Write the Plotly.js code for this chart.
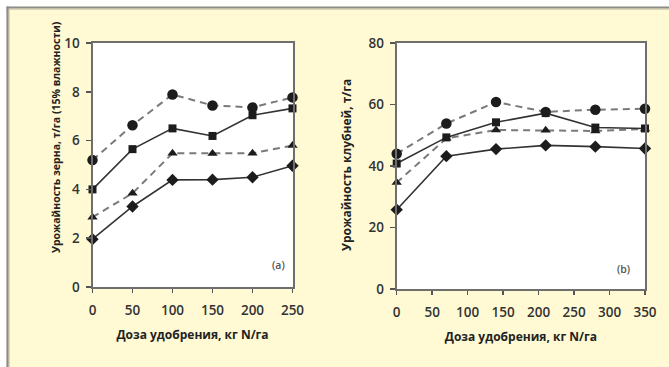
<!DOCTYPE html>
<html>
<head>
<meta charset="utf-8">
<script src="https://cdn.plot.ly/plotly-3.0.1.min.js"></script>
<style>html,body{margin:0;padding:0;background:#fff;}#chart{width:669px;height:367px;}</style>
</head>
<body>
<div id="chart"></div>
<script>
// Panel (a): grain yield, t/ha (15% moisture)
const xA = [0, 50, 100, 150, 200, 250];
const aCircle = [5.2, 6.63, 7.89, 7.44, 7.36, 7.77];
const aSquare = [4.0, 5.65, 6.5, 6.19, 7.04, 7.32];
const aTriangle = [2.86, 3.84, 5.48, 5.47, 5.48, 5.8];
const aDiamond = [1.96, 3.3, 4.39, 4.4, 4.5, 4.97];

// Panel (b): tuber yield, t/ha
const xB = [0, 70, 140, 210, 280, 350];
const bCircle = [44.0, 53.8, 60.8, 57.6, 58.3, 58.6];
const bSquare = [40.8, 49.3, 54.2, 57.2, 52.5, 52.2];
const bTriangle = [34.6, 49.0, 51.7, 51.6, 51.4, 52.0];
const bDiamond = [25.8, 43.2, 45.5, 46.7, 46.3, 45.7];

const xTitle = "Доза удобрения, кг N/га";
const yTitleA = "Урожайность зерна, т/га (15% влажности)";
const yTitleB = "Урожайность клубней, т/га";
const panelA = "(a)";
const panelB = "(b)";

const W = 669, H = 367;
const px = v => v / W;
const py = v => 1 - v / H;

const solid = {color: '#333333', width: 1.6};
const dashed = {color: '#7a7a7a', width: 2, dash: '7px,5px'};
const mk = (sym, size) => ({symbol: sym, size: size, color: '#1c1c1c'});

function series(x, y, xa, ya, line, marker) {
  return {x: x, y: y, xaxis: xa, yaxis: ya, type: 'scatter', mode: 'lines+markers',
          line: line, marker: marker, cliponaxis: false, showlegend: false, hoverinfo: 'skip'};
}

const data = [
  series(xA, aCircle, 'x', 'y', dashed, mk('circle', 10.5)),
  series(xA, aTriangle, 'x', 'y', dashed, mk('triangle-up', 9)),
  series(xA, aSquare, 'x', 'y', solid, mk('square', 8)),
  series(xA, aDiamond, 'x', 'y', solid, mk('diamond', 9.5)),
  series(xB, bCircle, 'x2', 'y2', dashed, mk('circle', 10.5)),
  series(xB, bTriangle, 'x2', 'y2', dashed, mk('triangle-up', 9)),
  series(xB, bSquare, 'x2', 'y2', solid, mk('square', 8)),
  series(xB, bDiamond, 'x2', 'y2', solid, mk('diamond', 9.5)),
];

const tickFont = {family: 'Open Sans, sans-serif', size: 13.5, color: '#333333', weight: 600};
const titleFont = {family: 'Open Sans, sans-serif', size: 12, color: '#222222', weight: 700};

function axisX(domain, range, anchor) {
  return {domain: domain, range: range, anchor: anchor, showgrid: false, zeroline: false,
    showline: true, linecolor: '#6e6e6e', linewidth: 2, mirror: true,
    ticks: 'outside', ticklen: 4, tickwidth: 1.5, tickcolor: '#555', dtick: 50, tick0: 0,
    tickfont: tickFont, ticklabelstandoff: 6, fixedrange: true,
    title: {text: xTitle, font: titleFont, standoff: 12}};
}
function axisY(domain, range, dtick, anchor) {
  return {domain: domain, range: range, anchor: anchor, showgrid: false, zeroline: false,
    showline: true, linecolor: '#6e6e6e', linewidth: 2, mirror: true,
    ticks: 'outside', ticklen: 5, tickwidth: 1.5, tickcolor: '#555', dtick: dtick, tick0: 0,
    tickfont: tickFont, ticklabelstandoff: 3, fixedrange: true};
}

const layout = {
  width: W, height: H,
  margin: {l: 0, r: 0, t: 0, b: 0},
  paper_bgcolor: '#fffad3',
  plot_bgcolor: '#ffffff',
  xaxis: axisX([px(92.5), px(292.5)], [0, 250], 'y'),
  yaxis: axisY([py(287), py(43)], [0, 10], 2, 'x'),
  xaxis2: axisX([px(396.7), px(645)], [0, 350], 'y2'),
  yaxis2: axisY([py(289), py(43)], [0, 80], 20, 'x2'),
  shapes: [
    {type: 'rect', xref: 'paper', yref: 'paper', x0: 0, x1: 1, y0: py(6.5), y1: 1, fillcolor: '#ffffff', line: {width: 0}, layer: 'below'},
    {type: 'rect', xref: 'paper', yref: 'paper', x0: 0, x1: px(6.5), y0: 0, y1: 1, fillcolor: '#ffffff', line: {width: 0}, layer: 'below'},
    {type: 'line', xref: 'paper', yref: 'paper', x0: px(6.5), x1: 1, y0: py(9.3), y1: py(9.3), line: {color: '#d9d5b5', width: 1.2}, layer: 'below'},
    {type: 'line', xref: 'paper', yref: 'paper', x0: px(9.3), x1: px(9.3), y0: 0, y1: py(6.5), line: {color: '#d9d5b5', width: 1.2}, layer: 'below'},
    {type: 'line', xref: 'paper', yref: 'paper', x0: px(6.5), x1: 1, y0: py(7.5), y1: py(7.5), line: {color: '#8c8c8c', width: 2.2}, layer: 'below'},
    {type: 'line', xref: 'paper', yref: 'paper', x0: px(7.5), x1: px(7.5), y0: 0, y1: py(6.5), line: {color: '#8c8c8c', width: 2.2}, layer: 'below'}
  ],
  annotations: [
    {xref: 'paper', yref: 'paper', x: px(47), y: py(137), text: yTitleA, textangle: -90, showarrow: false,
     font: {family: 'Open Sans, sans-serif', size: 10.5, color: '#222222', weight: 700}},
    {xref: 'paper', yref: 'paper', x: px(346), y: py(165), text: yTitleB, textangle: -90, showarrow: false,
     font: {family: 'Open Sans, sans-serif', size: 12, color: '#222222', weight: 700}},
    {xref: 'paper', yref: 'paper', x: px(278), y: py(274), text: panelA, showarrow: false,
     font: {family: 'Open Sans, sans-serif', size: 10.5, color: '#555', weight: 600}},
    {xref: 'paper', yref: 'paper', x: px(632), y: py(278), text: panelB, showarrow: false,
     font: {family: 'Open Sans, sans-serif', size: 10.5, color: '#555', weight: 600}}
  ]
};

Plotly.newPlot('chart', data, layout, {staticPlot: true, displayModeBar: false});
</script>
</body>
</html>
